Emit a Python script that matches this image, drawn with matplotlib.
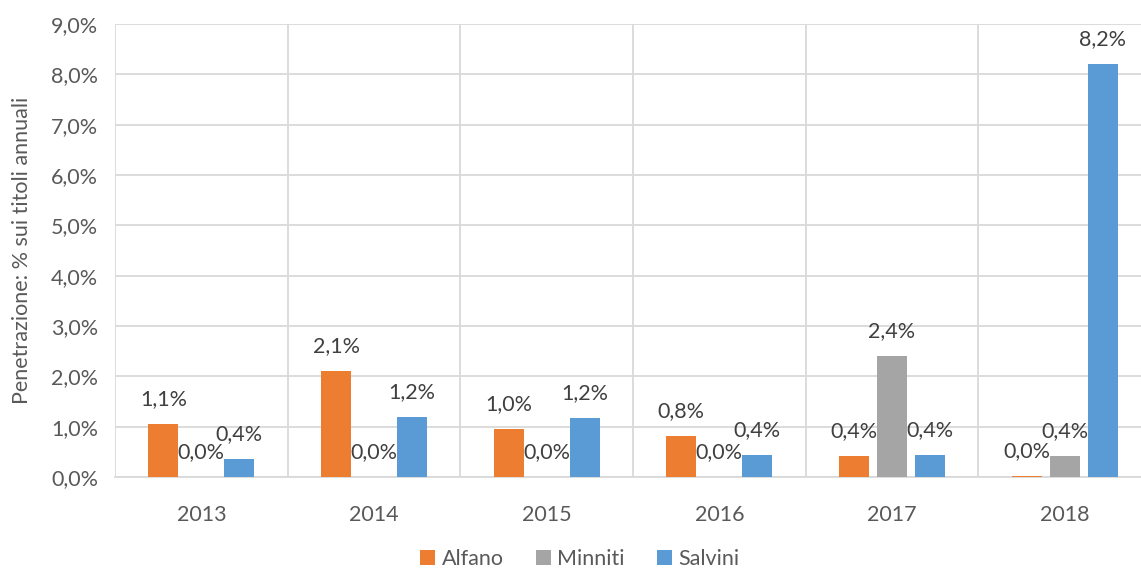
import numpy as np
import matplotlib
matplotlib.use("Agg")
import matplotlib.pyplot as plt
from matplotlib.ticker import FuncFormatter, FixedLocator

plt.rcParams['font.family'] = ['Lato', 'DejaVu Sans']

years = ['2013', '2014', '2015', '2016', '2017', '2018']
alfano = [1.06, 2.10, 0.96, 0.82, 0.42, 0.02]
minniti = [0.0, 0.0, 0.0, 0.0, 2.41, 0.42]
salvini = [0.36, 1.20, 1.18, 0.44, 0.43, 8.20]
series = ['Alfano', 'Minniti', 'Salvini']
colors = ['#ED7D31', '#A5A5A5', '#5B9BD5']

W, H = 1141, 569
fig = plt.figure(figsize=(W / 100, H / 100), dpi=100)
ax = fig.add_axes([115 / W, 1 - 477 / H, 1036 / W, 453 / H])

x = np.arange(len(years))
bw = 0.175
step = 0.22
for i, (name, vals, c) in enumerate(zip(series, [alfano, minniti, salvini], colors)):
    pos = x + (i - 1) * step
    ax.bar(pos, vals, width=bw, color=c, label=name, zorder=3)
    for px, v in zip(pos, vals):
        ax.annotate(('%.1f%%' % v).replace('.', ','), (px, v), xytext=(0, 18),
                    textcoords='offset points', ha='center', va='center',
                    fontsize=15.5, color='#404040', zorder=4)

ax.set_xlim(-0.5, len(years) - 0.5)
ax.set_ylim(0, 9)
ax.set_yticks(np.arange(0, 10, 1))
ax.yaxis.set_major_formatter(FuncFormatter(lambda v, p: ('%.1f%%' % v).replace('.', ',')))
ax.set_xticks(x)
ax.set_xticklabels(years)
ax.xaxis.set_minor_locator(FixedLocator(np.arange(-0.5, len(years), 1)))
ax.grid(axis='y', color='#D9D9D9', lw=1.3, zorder=0)
ax.grid(axis='x', which='minor', color='#D9D9D9', lw=1.3, zorder=0)
ax.tick_params(which='both', length=0)
ax.tick_params(axis='y', labelsize=15.5, labelcolor='#595959', pad=12)
ax.tick_params(axis='x', labelsize=15.5, labelcolor='#595959', pad=20)
for s in ['top', 'right', 'left']:
    ax.spines[s].set_visible(False)
ax.spines['bottom'].set_color('#D9D9D9')
ax.spines['bottom'].set_linewidth(1.3)

ax.set_ylabel('Penetrazione: % sui titoli annuali', fontsize=15.5, color='#595959', labelpad=14)

fig.legend(loc='center', bbox_to_anchor=(580 / W, 1 - 559 / H), ncol=3, frameon=False,
           fontsize=15.5, labelcolor='#595959', handlelength=0.7, handleheight=0.7,
           handletextpad=0.3, columnspacing=1.5)

fig.savefig('out.png', dpi=100)
